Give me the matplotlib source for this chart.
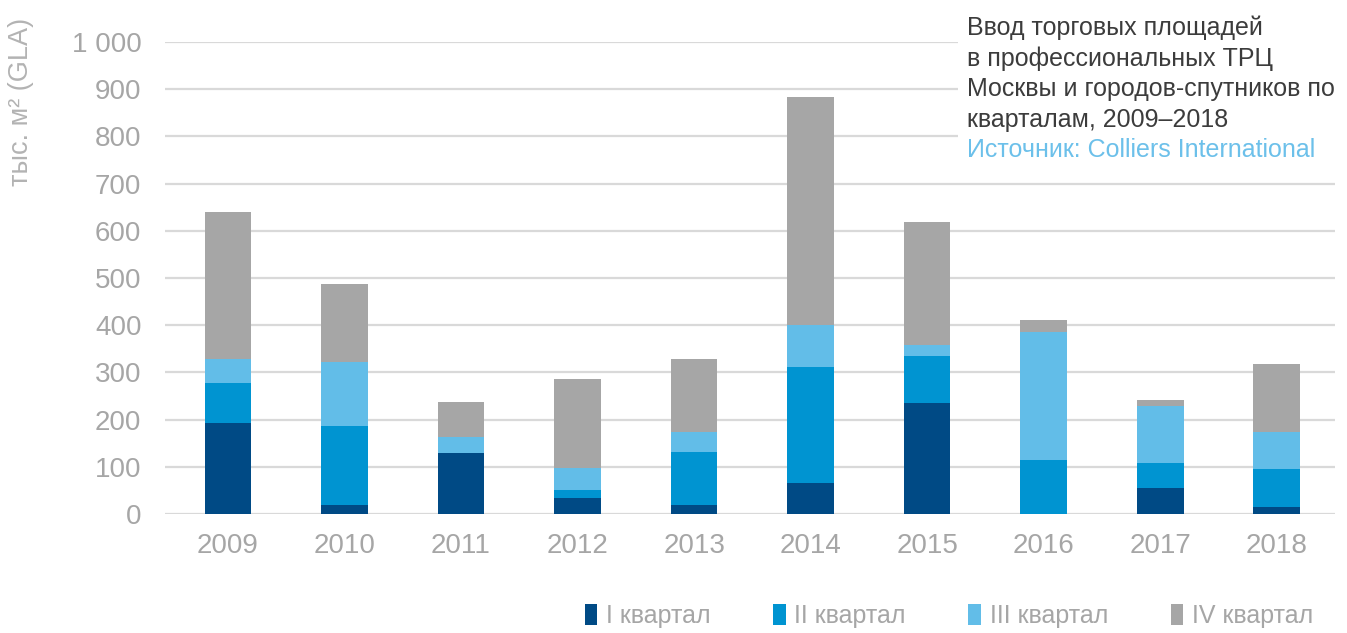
import matplotlib
matplotlib.use("Agg")
import matplotlib.pyplot as plt
import numpy as np
from matplotlib.patches import Patch

plt.rcParams['font.family'] = ['Liberation Sans', 'DejaVu Sans']

years = ['2009', '2010', '2011', '2012', '2013', '2014', '2015', '2016', '2017', '2018']
q1 = [193, 20, 130, 33, 20, 66, 235, 0, 56, 15]
q2 = [84, 166, 0, 17, 111, 245, 99, 115, 53, 80]
q3 = [52, 135, 34, 47, 43, 89, 25, 270, 120, 78]
q4 = [310, 166, 74, 190, 155, 484, 260, 26, 12, 144]
series_names = ['I квартал', 'II квартал', 'III квартал', 'IV квартал']
colors = ['#004a85', '#0094d1', '#62bde8', '#a6a6a6']
yticks = [0, 100, 200, 300, 400, 500, 600, 700, 800, 900, 1000]
ytick_labels = ['0', '100', '200', '300', '400', '500', '600', '700', '800', '900', '1 000']

fig = plt.figure(figsize=(13.47, 6.33), dpi=100)
ax = fig.add_axes([165/1347, 1 - 514/633, (1335-165)/1347, (514-42)/633])

x = np.arange(len(years))
bottom = np.zeros(len(years))
for vals, c in zip([q1, q2, q3, q4], colors):
    ax.bar(x, vals, width=0.40, bottom=bottom, color=c, zorder=3)
    bottom += np.array(vals)

ax.set_ylim(0, 1000)
ax.set_xlim(-0.54, 9.5)
ax.set_yticks(yticks)
ax.set_yticklabels(ytick_labels)
ax.set_xticks(x)
ax.set_xticklabels(years)
ax.grid(axis='y', color='#d9d9d9', linewidth=1.6, zorder=0)
ax.set_axisbelow(True)
for s in ax.spines.values():
    s.set_visible(False)
ax.tick_params(axis='both', length=0, labelsize=20, colors='#a6a6a6')
ax.tick_params(axis='y', pad=17)
ax.tick_params(axis='x', pad=14)

fig.text(8/1347, 1 - 102/633, 'тыс. м² (GLA)', rotation=90, ha='left', va='center',
         fontsize=19.5, color='#b3b3b3')

# title box
fig.patches.append(plt.Rectangle((958/1347, 1 - 165/633), (1347-958)/1347, 165/633,
                                 transform=fig.transFigure, facecolor='white',
                                 edgecolor='none', zorder=5))
title_lines = ['Ввод торговых площадей', 'в профессиональных ТРЦ',
               'Москвы и городов-спутников по', 'кварталам, 2009–2018']
for i, t in enumerate(title_lines):
    fig.text(967/1347, 1 - (28 + 30.5*i)/633, t, ha='left', va='center', fontsize=18,
             color='#3c3c3c', zorder=6)
fig.text(967/1347, 1 - (28 + 30.5*4)/633, 'Источник: Colliers International', ha='left',
         va='center', fontsize=18, color='#6cc0ea', zorder=6)

handles = [Patch(facecolor=c) for c in colors]
fig.legend(handles, series_names, loc='center right', bbox_to_anchor=(1313/1347, 1 - 616/633),
           ncol=4, frameon=False, fontsize=18, labelcolor='#a6a6a6',
           handlelength=0.5, handleheight=0.9, handletextpad=0.35, columnspacing=2.5,
           borderpad=0, borderaxespad=0)

fig.savefig('out.png', dpi=100)
